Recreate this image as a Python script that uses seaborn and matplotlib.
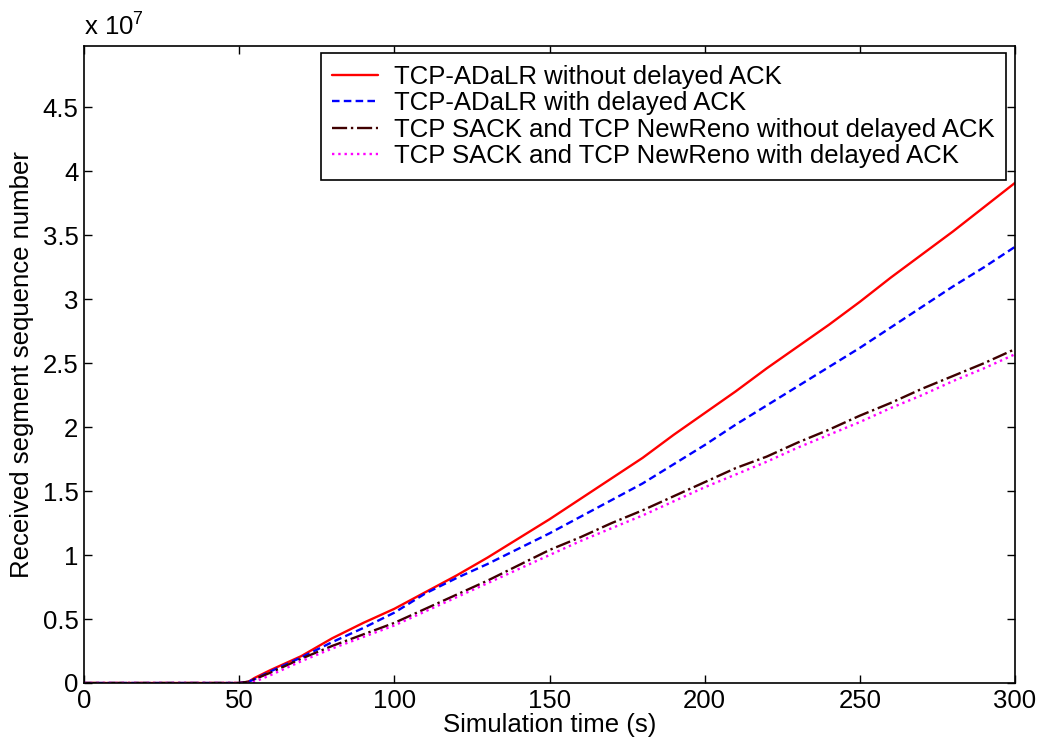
import pandas as pd
import matplotlib
matplotlib.use("Agg")
from matplotlib import pyplot as plt
import seaborn as sns

# simulation time (s)
time_s = [0, 50, 53, 55, 60, 70, 80, 90, 100, 110, 120, 130, 140, 150, 160, 170,
          180, 190, 200, 210, 220, 230, 240, 250, 260, 270, 280, 290, 300]

# received segment sequence number, in units of 1e7
adalr_no_delack = [0, 0, 0.01, 0.04, 0.10, 0.21, 0.35, 0.47, 0.58, 0.71, 0.84, 0.98, 1.13, 1.28,
                   1.44, 1.60, 1.76, 1.94, 2.11, 2.28, 2.46, 2.63, 2.80, 2.98, 3.17, 3.35, 3.53, 3.72, 3.91]
adalr_delack = [0, 0, 0.01, 0.03, 0.09, 0.20, 0.32, 0.43, 0.55, 0.70, 0.82, 0.93, 1.05, 1.17,
                1.30, 1.43, 1.56, 1.71, 1.86, 2.02, 2.17, 2.32, 2.47, 2.62, 2.78, 2.94, 3.10, 3.25, 3.41]
sack_no_delack = [0, 0, 0.01, 0.03, 0.08, 0.19, 0.29, 0.38, 0.47, 0.58, 0.69, 0.80, 0.92, 1.04,
                  1.14, 1.25, 1.35, 1.46, 1.57, 1.68, 1.77, 1.88, 1.98, 2.09, 2.19, 2.30, 2.40, 2.50, 2.61]
sack_delack = [0, 0, 0, 0.01, 0.06, 0.17, 0.27, 0.36, 0.45, 0.56, 0.67, 0.78, 0.89, 1.00,
               1.11, 1.21, 1.31, 1.42, 1.53, 1.63, 1.73, 1.84, 1.94, 2.04, 2.15, 2.25, 2.36, 2.46, 2.57]

labels = ["TCP-ADaLR without delayed ACK",
          "TCP-ADaLR with delayed ACK",
          "TCP SACK and TCP NewReno without delayed ACK",
          "TCP SACK and TCP NewReno with delayed ACK"]
colors = ["#ff0000", "#0000ff", "#3f0000", "#ff00ff"]
styles = ["-", (0, (3.2, 1.8)), "-.", ":"]

sns.set_style("ticks")
plt.rcParams["font.family"] = ["Liberation Sans", "DejaVu Sans"]
plt.rcParams["mathtext.fontset"] = "custom"
plt.rcParams["mathtext.rm"] = "Liberation Sans"
plt.rcParams["mathtext.it"] = "Liberation Sans"
plt.rcParams["text.color"] = "black"
plt.rcParams["axes.labelcolor"] = "black"
plt.rcParams["xtick.color"] = "black"
plt.rcParams["ytick.color"] = "black"

fs = 18.5

fig = plt.figure(figsize=(10.41, 7.46), dpi=100)
ax = fig.add_axes([84 / 1041, 1 - 683 / 746, 931 / 1041, 637 / 746])

series = [adalr_no_delack, adalr_delack, sack_no_delack, sack_delack]
for vals, lab, col, ls in zip(series, labels, colors, styles):
    df = pd.DataFrame({"t": time_s, "seq": vals})
    sns.lineplot(data=df, x="t", y="seq", ax=ax, color=col, linestyle=ls,
                 linewidth=1.7, label=lab)

ax.set_xlim(0, 300)
ax.set_ylim(0, 4.98)
ax.set_xticks(range(0, 301, 50))
ax.set_yticks([i * 0.5 for i in range(10)])
ax.set_yticklabels(["0", "0.5", "1", "1.5", "2", "2.5", "3", "3.5", "4", "4.5"])
ax.tick_params(direction="in", length=6, width=1, labelsize=fs, pad=4,
               top=True, right=True, colors="black")
for sp in ax.spines.values():
    sp.set_visible(True)
    sp.set_linewidth(1.2)
    sp.set_color("black")

ax.set_xlabel("Simulation time (s)", fontsize=fs, labelpad=0)
ax.set_ylabel("Received segment sequence number", fontsize=fs, labelpad=6)
ax.text(0.0, 1.008, r"x 10$^{7}$", transform=ax.transAxes, fontsize=fs,
        ha="left", va="bottom")

leg = ax.legend(loc="upper right", bbox_to_anchor=(1006 / 1041, 1 - 53 / 746),
                bbox_transform=fig.transFigure, borderaxespad=0, fontsize=fs,
                frameon=True, fancybox=False, edgecolor="black", framealpha=1,
                labelspacing=0.1, handlelength=1.8, handletextpad=0.6,
                borderpad=0.45)
leg.get_frame().set_linewidth(1.2)

fig.savefig("out.png", dpi=100)
